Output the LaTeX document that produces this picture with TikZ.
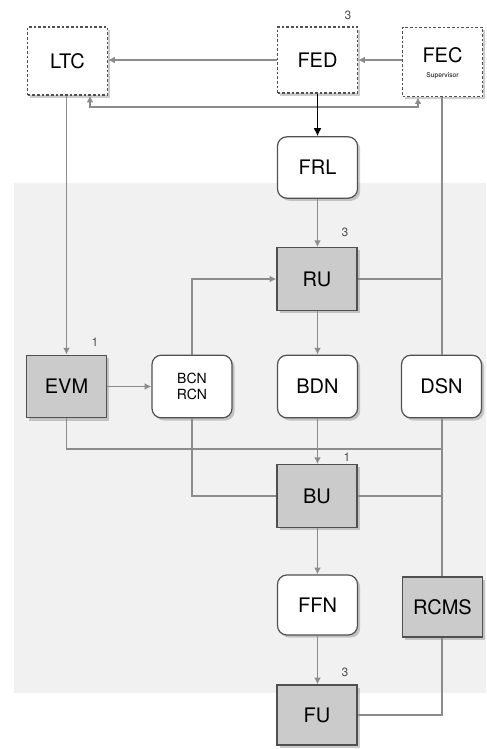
\documentclass[tikz,border=0pt]{standalone}
\usepackage{fontspec}
\setmainfont{TeX Gyre Heros}
\usetikzlibrary{shadows,arrows.meta}
\definecolor{bgc}{HTML}{F1F1F1}
\definecolor{boxg}{HTML}{CBCBCB}
\definecolor{edge}{HTML}{505050}
\definecolor{linec}{HTML}{8C8C8C}
\tikzset{
  base/.style={draw=edge, line width=0.9pt, font=\fontsize{15}{16}\selectfont, inner sep=0pt,
    minimum width=60pt, minimum height=47pt, align=center,
    drop shadow={opacity=0.4, shadow xshift=2pt, shadow yshift=-2pt}},
  dashbox/.style={base, dash pattern=on 2pt off 1.5pt, fill=white},
  graybox/.style={base, fill=boxg},
  roundbox/.style={base, fill=white, rounded corners=7pt},
  conn/.style={draw=linec, line width=1.3pt},
  arr/.style={conn, -{Latex[length=5pt,width=5pt]}},
  darr/.style={conn, {Latex[length=5pt,width=5pt]}-{Latex[length=5pt,width=5pt]}},
  blk/.style={draw=black, line width=1.4pt, -{Latex[length=6pt,width=6pt]}},
  num/.style={font=\fontsize{9}{10}\selectfont, text=edge, inner sep=0pt}
}
\begin{document}
\begin{tikzpicture}[x=0.75pt, y=-0.75pt]
\useasboundingbox (0,0) rectangle (486,749);
\fill[bgc] (14,183) rectangle (486,693);

% nodes
\node[dashbox, minimum height=51pt] (LTC) at (67.5,61) {LTC};
\node[dashbox, minimum height=49.5pt] (FED) at (317.5,60) {FED};
\node[dashbox, minimum height=52pt] (FEC) at (442.5,62) {};
\node[inner sep=0pt, font=\fontsize{15}{16}\selectfont] (FECt) at (442.5,55) {FEC};
\node[inner sep=0pt, font=\fontsize{5}{6}\selectfont] (FECs) at (442.5,76) {Supervisor};
\node[roundbox, minimum height=46pt] (FRL) at (317.5,167.5) {FRL};
\node[graybox] (RU) at (317,279) {RU};
\node[graybox] (EVM) at (66.5,386.5) {EVM};
\node[roundbox, font=\fontsize{10.5}{12}\selectfont] (BCN) at (192,386.5) {BCN\\RCN};
\node[roundbox] (BDN) at (317.5,386.5) {BDN};
\node[roundbox] (DSN) at (441.5,386.5) {DSN};
\node[graybox] (BU) at (317,496) {BU};
\node[roundbox, minimum height=45pt] (FFN) at (317.5,605) {FFN};
\node[graybox, minimum height=45pt] (RCMS) at (442.5,607) {RCMS};
\node[graybox, minimum height=45pt] (FU) at (317,715) {FU};

% labels
\node[num] (n1) at (348,15) {3};
\node[num] (n2) at (345,232) {3};
\node[num] (n3) at (95,342) {1};
\node[num] (n4) at (347,457) {1};
\node[num] (n5) at (345,672) {3};

% bus coordinates
\coordinate (b1) at (90,107);
\coordinate (b2) at (418,107);
\coordinate (vx) at (442,0);
\coordinate (h1) at (442,449);

% top connectors
\draw[arr] (FED.west) -- (FED.west -| LTC.east);
\draw[arr] (FEC.west |- FED.east) -- (FED.east);
\draw[darr] (LTC.south -| b1) -- (b1) -- (b2) -- (FEC.south -| b2);
\draw[blk] (FED.south) -- (FRL.north);

% vertical buses
\draw[arr] (LTC.south -| EVM.north) -- (EVM.north);
\draw[conn] (FEC.south -| vx) -- (DSN.north -| vx);
\draw[conn] (DSN.south -| vx) -- (RCMS.north -| vx);
\draw[conn] (RCMS.south -| vx) |- (FU.east);

% main chain
\draw[arr] (FRL.south) -- (RU.north -| FRL.south);
\draw[conn] (RU.east) -- (RU.east -| vx);
\draw[arr] (BCN.north) |- (RU.west);
\draw[arr] (RU.south -| BDN.north) -- (BDN.north);
\draw[arr] (EVM.east) -- (BCN.west);
\draw[conn] (EVM.south) |- (h1);
\draw[arr] (BDN.south) -- (BU.north -| BDN.south);
\draw[conn] (BCN.south) |- (BU.west);
\draw[conn] (BU.east) -- (BU.east -| vx);
\draw[arr] (BU.south -| FFN.north) -- (FFN.north);
\draw[arr] (FFN.south) -- (FU.north -| FFN.south);
\end{tikzpicture}
\end{document}
